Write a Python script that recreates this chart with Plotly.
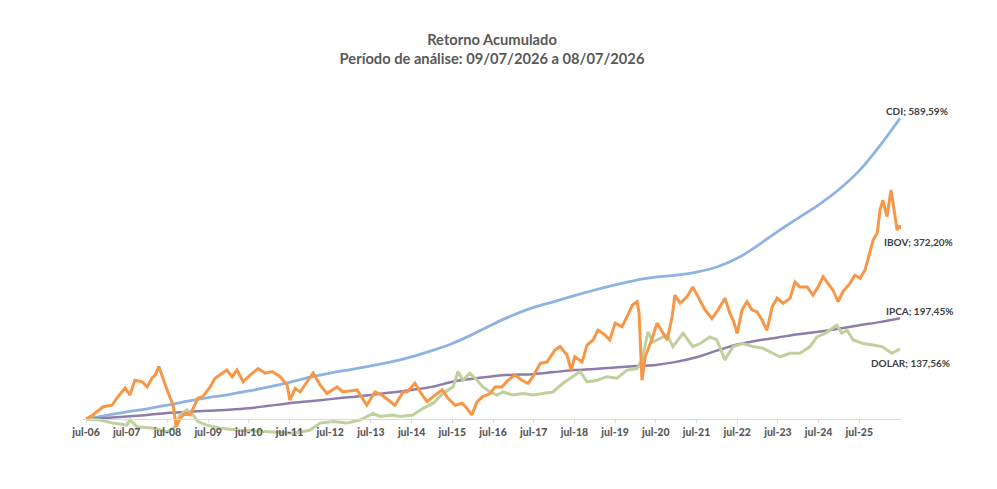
import plotly.graph_objects as go

# x values are decimal years (2006.5 = jul-06)
# CDI and IPCA are smooth curves: semiannual readings (jul / jan)
smooth_t = [2006.5 + 0.5 * i for i in range(41)]
cdi = [0, 7, 14, 20, 27, 35, 42, 48, 55, 63, 72, 82, 90, 97, 104, 112, 122, 134, 148, 166,
       186, 204, 219, 230, 242, 253, 263, 272, 278, 282, 288, 298, 315, 340, 368, 394, 420,
       450, 487, 535, 589.59]
ipca = [0, 2, 5, 8, 12, 14, 16, 18, 21, 26, 31, 35, 39, 43, 47, 52, 57, 63, 73, 79,
        84, 87, 88, 92, 96, 98, 101, 104, 106, 112, 121, 134, 146, 154, 160, 166, 171,
        177, 184, 190, 197.45]

ibov_t = [2006.50, 2006.67, 2006.92, 2007.14, 2007.26, 2007.46, 2007.58, 2007.70, 2007.88,
          2008.00, 2008.12, 2008.20, 2008.29, 2008.39, 2008.51, 2008.64, 2008.72, 2008.81,
          2008.93, 2009.06, 2009.18, 2009.25, 2009.37, 2009.55, 2009.67, 2009.79, 2009.96,
          2010.09, 2010.21, 2010.36, 2010.53, 2010.73, 2010.90, 2011.07, 2011.27, 2011.44,
          2011.51, 2011.64, 2011.76, 2011.93, 2012.08, 2012.25, 2012.42, 2012.67, 2012.81,
          2013.16, 2013.40, 2013.60, 2013.77, 2014.09, 2014.29, 2014.39, 2014.58, 2014.71,
          2014.88, 2015.03, 2015.25, 2015.39, 2015.57, 2015.74, 2015.86, 2015.98, 2016.11,
          2016.25, 2016.43, 2016.55, 2016.72, 2016.87, 2017.04, 2017.21, 2017.36, 2017.48,
          2017.66, 2017.83, 2018.02, 2018.15, 2018.32, 2018.42, 2018.51, 2018.69, 2018.81,
          2018.96, 2019.08, 2019.25, 2019.37, 2019.50, 2019.67, 2019.79, 2019.92, 2020.04,
          2020.09, 2020.16, 2020.24, 2020.41, 2020.53, 2020.68, 2020.78, 2020.90, 2020.97,
          2021.10, 2021.27, 2021.41, 2021.54, 2021.71, 2021.88, 2022.03, 2022.20, 2022.32,
          2022.40, 2022.50, 2022.62, 2022.74, 2022.86, 2022.99, 2023.11, 2023.23, 2023.36,
          2023.48, 2023.63, 2023.80, 2023.92, 2024.04, 2024.22, 2024.36, 2024.49, 2024.61,
          2024.73, 2024.85, 2024.98, 2025.10, 2025.27, 2025.39, 2025.52, 2025.64, 2025.71,
          2025.84, 2025.94, 2026.01, 2026.08, 2026.18, 2026.28, 2026.38, 2026.43, 2026.48,
          2026.50]
ibov = [0, 8, 24, 27, 41, 61, 47, 76, 73,
        63, 80, 86, 103, 80, 53, 27, -15, 1,
        11, 8, 27, 41, 44, 63, 80, 86, 96,
        83, 96, 73, 86, 99, 90, 93, 83, 67,
        37, 60, 53, 73, 90, 67, 50, 63, 53,
        57, 27, 53, 47, 27, 53, 53, 70, 53,
        34, 44, 57, 41, 27, 31, 21, 8, 34,
        44, 50, 63, 63, 76, 86, 76, 70, 83,
        109, 112, 135, 142, 125, 96, 122, 112, 145,
        155, 174, 165, 155, 188, 181, 200, 223, 230,
        207, 76, 122, 158, 188, 168, 155, 200, 243,
        227, 240, 259, 240, 214, 197, 214, 237, 207,
        194, 168, 214, 230, 214, 210, 194, 174, 220,
        237, 227, 237, 269, 259, 259, 243, 259, 279,
        266, 253, 230, 250, 266, 282, 276, 292, 312,
        351, 364, 410, 429, 397, 449, 390, 370, 380,
        372.20]

dolar_t = [2006.50, 2006.84, 2007.16, 2007.51, 2007.58, 2007.75, 2008.15, 2008.49, 2008.69,
           2008.81, 2008.98, 2009.13, 2009.25, 2009.47, 2009.79, 2010.28, 2010.78, 2011.27,
           2011.59, 2012.00, 2012.25, 2012.57, 2012.91, 2013.23, 2013.55, 2013.72, 2014.04,
           2014.21, 2014.53, 2014.78, 2015.03, 2015.27, 2015.52, 2015.64, 2015.76, 2015.93,
           2016.11, 2016.25, 2016.43, 2016.60, 2016.75, 2016.99, 2017.24, 2017.48, 2017.73,
           2017.97, 2018.22, 2018.39, 2018.64, 2018.81, 2019.06, 2019.30, 2019.55, 2019.79,
           2020.04, 2020.16, 2020.31, 2020.43, 2020.60, 2020.78, 2020.92, 2021.17, 2021.41,
           2021.59, 2021.83, 2022.00, 2022.20, 2022.40, 2022.64, 2022.89, 2023.13, 2023.31,
           2023.55, 2023.80, 2024.04, 2024.29, 2024.46, 2024.66, 2024.83, 2024.95, 2025.07,
           2025.20, 2025.35, 2025.59, 2025.84, 2026.06, 2026.30, 2026.50]
dolar = [0, -2, -8, -12, -2, -15, -18, -25, -15,
         8, 18, 8, -5, -12, -18, -22, -24, -26,
         -28, -22, -8, -5, -8, -2, 11, 5, 8,
         5, 8, 21, 31, 50, 63, 93, 76, 90,
         76, 63, 53, 47, 53, 47, 50, 47, 50,
         53, 70, 80, 93, 73, 76, 83, 80, 96,
         99, 116, 171, 151, 158, 165, 142, 168, 142,
         148, 161, 155, 116, 142, 148, 142, 139, 132,
         122, 129, 129, 142, 161, 168, 178, 184, 168,
         174, 155, 148, 145, 142, 129, 137.56]

tick_vals = [2006.5 + i for i in range(20)]
tick_text = [f"jul-{(6 + i):02d}" for i in range(20)]

fig = go.Figure()
fig.add_trace(go.Scatter(x=smooth_t, y=cdi, name="CDI", mode="lines", line_shape="spline",
                         line=dict(color="#8DB3E2", width=2.8)))
fig.add_trace(go.Scatter(x=smooth_t, y=ipca, name="IPCA", mode="lines", line_shape="spline",
                         line=dict(color="#8E7CAA", width=2.5)))
fig.add_trace(go.Scatter(x=dolar_t, y=dolar, name="DOLAR", mode="lines",
                         line=dict(color="#BFD09C", width=3)))
fig.add_trace(go.Scatter(x=ibov_t, y=ibov, name="IBOV", mode="lines",
                         line=dict(color="#F79646", width=3)))

# end labels, Excel style "NOME; valor%"
labels = [("CDI", cdi[-1], 17, 7),
          ("IBOV", ibov[-1], 19, -13),
          ("IPCA", ipca[-1], 20, 7),
          ("DOLAR", dolar[-1], 11, -14)]
for name, val, dx, dy in labels:
    txt = f"{name}; {val:.2f}%".replace(".", ",")
    fig.add_annotation(x=2026.5, y=val, text=f"<b>{txt}</b>", showarrow=False,
                       xshift=dx, yshift=dy, font=dict(size=10, color="#404040"))

fig.update_layout(
    width=997, height=489,
    title=dict(text="<b>Retorno Acumulado<br>Período de análise: 09/07/2026 a 08/07/2026</b>",
               x=0.5, y=0.924, xanchor="center", yanchor="top", xref="paper",
               font=dict(family="Lato", size=14.7, color="#595959")),
    font=dict(family="Lato", color="#595959"),
    showlegend=False,
    plot_bgcolor="white", paper_bgcolor="white",
    margin=dict(l=75, r=104, t=72, b=48),
    xaxis=dict(range=[2006.426, 2026.525], tickvals=tick_vals, ticktext=tick_text,
               tickfont=dict(size=10.5, color="#595959", family="Lato Black"),
               showgrid=False, showline=True, linecolor="#D9D9D9", linewidth=1,
               ticks="outside", ticklen=3, tickcolor="#D9D9D9",
               anchor="free", position=0.0813, zeroline=False),
    yaxis=dict(range=[-58.8, 664.7], visible=False, showgrid=False, zeroline=False),
)

fig.write_html("out.html")
